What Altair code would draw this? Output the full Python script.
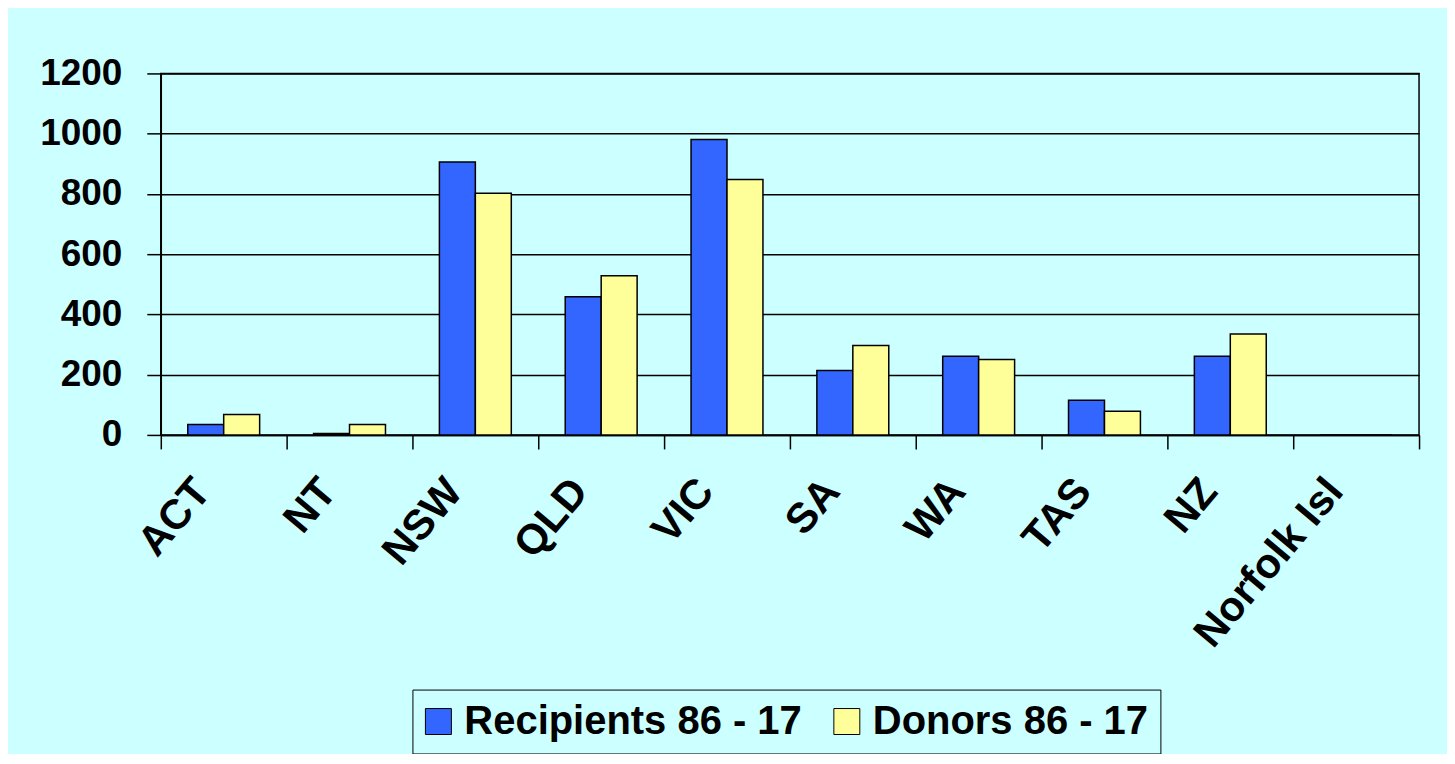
import altair as alt
import pandas as pd

categories = ["ACT", "NT", "NSW", "QLD", "VIC", "SA", "WA", "TAS", "NZ", "Norfolk Isl"]
recipients = [35, 5, 906, 459, 981, 214, 261, 115, 261, 0]
donors = [68, 35, 802, 528, 848, 297, 250, 79, 335, 0]
series = ["Recipients 86 - 17", "Donors 86 - 17"]
colors = ["#3366FF", "#FFFF99"]
y_ticks = [0, 200, 400, 600, 800, 1000, 1200]

rows = []
for c, r, d in zip(categories, recipients, donors):
    rows.append({"cat": c, "series": series[0], "value": r})
    rows.append({"cat": c, "series": series[1], "value": d})
df = pd.DataFrame(rows)

FONT = "Liberation Sans"

chart = alt.Chart(df).mark_bar(stroke="black", strokeWidth=1.5).encode(
    x=alt.X("cat:N", sort=categories, title=None,
            scale=alt.Scale(paddingInner=0, paddingOuter=0),
            axis=alt.Axis(labelAngle=-50, labelAlign="right", labelBaseline="top",
                          labelFontSize=42, labelFont=FONT, labelFontWeight="bold",
                          labelColor="black", tickBand="extent", tickSize=14,
                          tickColor="black", tickWidth=1.5, domainColor="black",
                          domainWidth=1.5, labelPadding=22, labelOffset=-37,
                          labelLimit=400)),
    xOffset=alt.XOffset("series:N", sort=series,
                        scale=alt.Scale(paddingInner=0, paddingOuter=0.75)),
    y=alt.Y("value:Q", title=None,
            scale=alt.Scale(domain=[0, 1200], nice=False),
            axis=alt.Axis(values=y_ticks, format="d", labelFontSize=37, labelFont=FONT,
                          labelFontWeight="bold", labelColor="black", tickSize=14,
                          tickColor="black", tickWidth=1.5, gridColor="black",
                          gridWidth=1.5, gridOpacity=1, domainColor="black",
                          domainWidth=1.5, labelPadding=25)),
    color=alt.Color("series:N", sort=series,
                    scale=alt.Scale(domain=series, range=colors),
                    legend=alt.Legend(title=None, orient="none", legendX=252, legendY=617,
                                      direction="horizontal", fillColor="#CCFFFF",
                                      strokeColor="black", padding=12,
                                      symbolType="square", symbolSize=676,
                                      symbolOffset=-6,
                                      symbolStrokeColor="black", symbolStrokeWidth=1,
                                      labelFontSize=40, labelFont=FONT,
                                      labelFontWeight="bold", labelColor="black",
                                      labelOffset=6, columnPadding=30, labelLimit=600)),
).properties(
    width=1260,
    height=362,
    background="#CCFFFF",
    padding={"left": 153, "top": 65, "right": 28, "bottom": 319},
    autosize=alt.AutoSizeParams(type="none"),
).configure_view(
    stroke="black", strokeWidth=1.5, fill="#CCFFFF"
)

chart.save("out.html", embed_options={"renderer": "svg", "actions": False})
